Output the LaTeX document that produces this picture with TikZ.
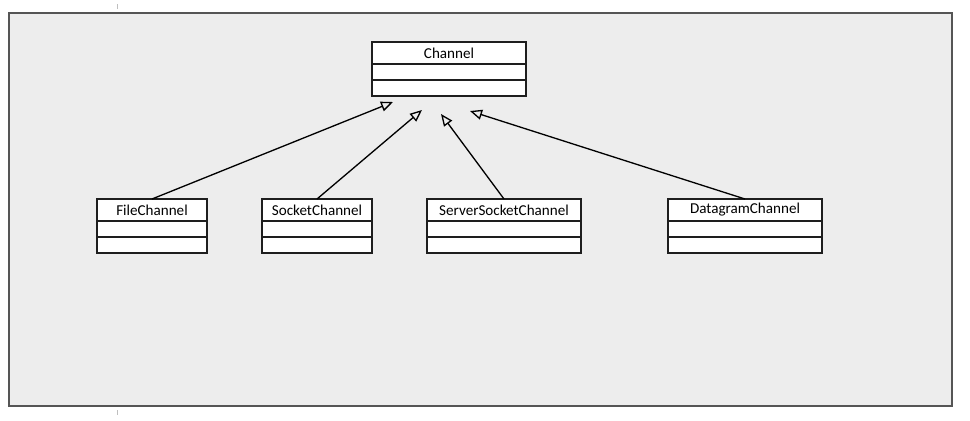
\documentclass[tikz,border=0pt]{standalone}
\usepackage{fontspec}
\setmainfont{Carlito}
\usepackage{xcolor}
\definecolor{umlBack}{RGB}{237, 237, 237}
\definecolor{umlFrame}{RGB}{85, 85, 85}
\definecolor{umlLine}{RGB}{30, 30, 30}
\usepackage{tikz}
\usetikzlibrary{
    arrows.meta,
    positioning
}

\begin{document}
\begin{tikzpicture}[
    x=0.02cm, y=-0.02cm,
    classHead/.style={
        rectangle, draw=umlLine, line width=0.75pt,
        fill=white, text=black,
        font=\fontsize{8.6}{10}\selectfont,
        inner sep=0pt, outer sep=0pt,
        minimum height=0.44cm
    },
    classPart/.style={
        rectangle, draw=umlLine, line width=0.75pt,
        fill=white, inner sep=0pt, outer sep=0pt,
        minimum height=0.32cm
    },
    narrowBox/.style={minimum width=2.2cm},
    wideBox/.style={minimum width=3.08cm},
    inheritLine/.style={
        -{Triangle[open, length=2.4mm, width=2mm]}, line width=0.75pt, draw=black
    }
]

    \useasboundingbox (0,0) rectangle (970,420);

    % Frame
    \draw[draw=umlFrame, line width=1.1pt, fill=umlBack] (9,13) rectangle (952,406);
    \draw[black!25, line width=0.4pt] (117,4) -- (117,9);
    \draw[black!25, line width=0.4pt] (117,410) -- (117,415);

    % Super class
    \node[classHead, wideBox] (channel) at (449,53) {Channel};
    \node[classPart, wideBox, below=0pt of channel] (channelA) {};
    \node[classPart, wideBox, below=0pt of channelA] (channelB) {};

    % Sub classes
    \node[classHead, narrowBox] (file) at (152,210) {FileChannel};
    \node[classPart, narrowBox, below=0pt of file] (fileA) {};
    \node[classPart, narrowBox, below=0pt of fileA] (fileB) {};

    \node[classHead, narrowBox] (socket) at (317,210) {SocketChannel};
    \node[classPart, narrowBox, below=0pt of socket] (socketA) {};
    \node[classPart, narrowBox, below=0pt of socketA] (socketB) {};

    \node[classHead, wideBox] (server) at (504,210) {ServerSocketChannel};
    \node[classPart, wideBox, below=0pt of server] (serverA) {};
    \node[classPart, wideBox, below=0pt of serverA] (serverB) {};

    \node[classHead, wideBox] (datagram) at (745,210) {DatagramChannel};
    \node[classPart, wideBox, below=0pt of datagram] (datagramA) {};
    \node[classPart, wideBox, below=0pt of datagramA] (datagramB) {};

    % Arrow tips under Channel
    \coordinate (tipFile) at (393,102);
    \coordinate (tipSocket) at (422,110);
    \coordinate (tipServer) at (441,114);
    \coordinate (tipDatagram) at (470,111);

    % Connections
    \draw[inheritLine] (file.north) -- (tipFile);
    \draw[inheritLine] (socket.north) -- (tipSocket);
    \draw[inheritLine] (server.north) -- (tipServer);
    \draw[inheritLine] (datagram.north) -- (tipDatagram);

\end{tikzpicture}
\end{document}
